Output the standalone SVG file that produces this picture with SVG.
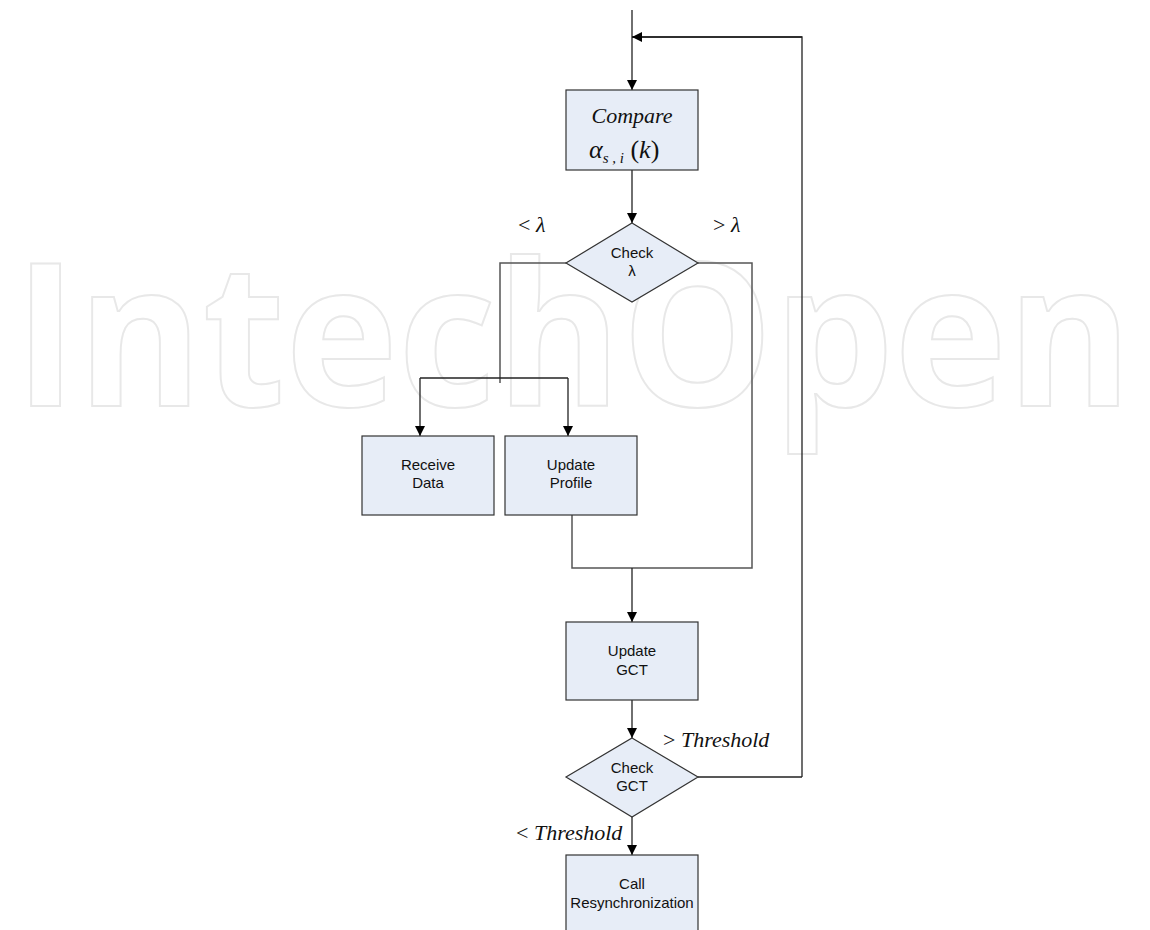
<svg xmlns="http://www.w3.org/2000/svg" width="1150" height="930" viewBox="0 0 1150 930">
<defs>
<style>
.box{fill:#E7EDF7;stroke:#333;stroke-width:1.2}
.ln{fill:none;stroke:#222;stroke-width:1.3}
.lg{fill:none;stroke:#555;stroke-width:1.5}
.t{font-family:"Liberation Sans",Arial,sans-serif;font-size:15px;fill:#111;text-anchor:middle}
.m{font-family:"Liberation Serif","Times New Roman",serif;font-size:22px;fill:#111}
.wm{font-family:"Open Sans",Inter,sans-serif;font-weight:700;font-size:200px;fill:none;stroke:#e8e8e8;stroke-width:2}
</style>
<marker id="ah" viewBox="0 0 10 10" refX="10" refY="5" markerWidth="10" markerHeight="10" markerUnits="userSpaceOnUse" orient="auto">
<path d="M0,0 L10,5 L0,10 Z" fill="#000"/>
</marker>
</defs>
<rect width="1150" height="930" fill="#fff"/>
<g id="watermark">
<text class="wm" x="14" y="406" textLength="1118" lengthAdjust="spacingAndGlyphs">IntechOpen</text>
</g>
<g id="connectors">
<path class="ln" d="M632,10 V90" marker-end="url(#ah)"/>
<path class="ln" d="M802,777 H698 M802,777 V37 H632" />
<path class="ln" d="M802,37 H632" marker-end="url(#ah)"/>
<path class="ln" d="M632,170 V223" marker-end="url(#ah)"/>
<path class="lg" d="M566,263 H500 V383"/>
<path class="ln" d="M420,378 H568"/>
<path class="ln" d="M420,378 V436" marker-end="url(#ah)"/>
<path class="ln" d="M568,378 V436" marker-end="url(#ah)"/>
<path class="lg" d="M698,263 H752 V568 H572 V515"/>
<path class="ln" d="M632,568 V622" marker-end="url(#ah)"/>
<path class="ln" d="M632,700 V738" marker-end="url(#ah)"/>
<path class="ln" d="M632,817 V855" marker-end="url(#ah)"/>
</g>
<g id="labels">
<text class="m" x="518" y="232">&lt; <tspan font-style="italic">λ</tspan></text>
<text class="m" x="713" y="232">&gt; <tspan font-style="italic">λ</tspan></text>
<text class="m" x="663" y="747">&gt; <tspan font-style="italic">Threshold</tspan></text>
<text class="m" x="516" y="840">&lt; <tspan font-style="italic">Threshold</tspan></text>
</g>
<g id="compare">
<rect class="box" x="566" y="90" width="132" height="80"/>
<text class="m" x="632" y="123" text-anchor="middle" font-style="italic">Compare</text>
<text class="m" x="589" y="158" style="font-size:26px;font-style:italic">α<tspan style="font-size:15px" dy="5">s , i</tspan><tspan dy="-5" style="font-style:normal"> (</tspan>k<tspan style="font-style:normal">)</tspan></text>
</g>
<g id="check-lambda">
<polygon class="box" points="632,223 698,263 632,302 566,263"/>
<text class="t" x="632" y="258">Check</text>
<text class="t" x="632" y="276">λ</text>
</g>
<g id="receive-data">
<rect class="box" x="362" y="436" width="132" height="79"/>
<text class="t" x="428" y="470">Receive</text>
<text class="t" x="428" y="488">Data</text>
</g>
<g id="update-profile">
<rect class="box" x="505" y="436" width="132" height="79"/>
<text class="t" x="571" y="470">Update</text>
<text class="t" x="571" y="488">Profile</text>
</g>
<g id="update-gct">
<rect class="box" x="566" y="622" width="132" height="78"/>
<text class="t" x="632" y="656">Update</text>
<text class="t" x="632" y="675">GCT</text>
</g>
<g id="check-gct">
<polygon class="box" points="632,738 698,777 632,817 566,777"/>
<text class="t" x="632" y="773">Check</text>
<text class="t" x="632" y="791">GCT</text>
</g>
<g id="call-resync">
<rect class="box" x="566" y="855" width="132" height="85"/>
<text class="t" x="632" y="889">Call</text>
<text class="t" x="632" y="908">Resynchronization</text>
</g>
</svg>
